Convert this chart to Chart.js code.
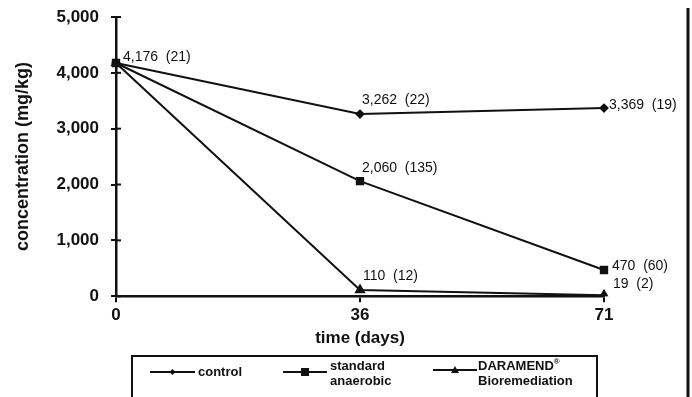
<!DOCTYPE html>
<html>
<head>
<meta charset="utf-8">
<script src="https://cdn.jsdelivr.net/npm/chart.js@4.4.1/dist/chart.umd.min.js"></script>
<style>
    body { margin: 0; background: #fff; }
    #wrap { width: 692px; height: 397px; position: relative; }
</style>
</head>
<body>
<div id="wrap"><canvas id="chart" width="692" height="397"></canvas></div>
<script>
    const days = ['0', '36', '71'];
    const control = [4176, 3262, 3369];
    const controlSd = [21, 22, 19];
    const anaerobic = [4176, 2060, 470];
    const anaerobicSd = [21, 135, 60];
    const daramend = [4176, 110, 19];
    const daramendSd = [21, 12, 2];
    const yTicks = [0, 1000, 2000, 3000, 4000, 5000];

    const ink = '#111';
    const fontFamily = '"Liberation Sans", Arial, sans-serif';

    // where each value label sits relative to its point (dx, dy), null = no label
    const labelOffsets = [
        [[7, -6], [2, -14], [5, -3]],
        [null, [2, -13], [8, -4]],
        [null, [3, -14], [9, -11]]
    ];
    const sds = [controlSd, anaerobicSd, daramendSd];

    const fmt = (v) => v.toLocaleString('en-US');

    const extras = {
        id: 'extras',
        afterDraw(chart) {
            const ctx = chart.ctx;
            const yScale = chart.scales.y;
            const area = chart.chartArea;
            ctx.save();

            // inner half of the y tick marks
            ctx.strokeStyle = ink;
            ctx.lineWidth = 2;
            yTicks.forEach(t => {
                const y = yScale.getPixelForValue(t);
                ctx.beginPath();
                ctx.moveTo(area.left, y);
                ctx.lineTo(area.left + 5, y);
                ctx.stroke();
            });

            // value labels
            ctx.fillStyle = ink;
            ctx.font = '14px ' + fontFamily;
            ctx.textAlign = 'left';
            ctx.textBaseline = 'middle';
            chart.data.datasets.forEach((ds, i) => {
                const meta = chart.getDatasetMeta(i);
                meta.data.forEach((pt, j) => {
                    const off = labelOffsets[i][j];
                    if (!off) return;
                    ctx.fillText(fmt(ds.data[j]) + '  (' + sds[i][j] + ')', pt.x + off[0], pt.y + off[1]);
                });
            });

            // legend box
            ctx.lineWidth = 2;
            ctx.strokeRect(132, 356, 465, 60);

            const drawSample = (x0, x1, y, style) => {
                ctx.lineWidth = 2;
                ctx.beginPath();
                ctx.moveTo(x0, y);
                ctx.lineTo(x1, y);
                ctx.stroke();
                const cx = (x0 + x1) / 2;
                ctx.beginPath();
                if (style === 'rect') {
                    ctx.fillRect(cx - 4, y - 4, 8, 8);
                } else if (style === 'triangle') {
                    ctx.moveTo(cx, y - 4);
                    ctx.lineTo(cx + 4, y + 3);
                    ctx.lineTo(cx - 4, y + 3);
                    ctx.closePath();
                    ctx.fill();
                } else {
                    ctx.moveTo(cx, y - 3);
                    ctx.lineTo(cx + 3, y);
                    ctx.lineTo(cx, y + 3);
                    ctx.lineTo(cx - 3, y);
                    ctx.closePath();
                    ctx.fill();
                }
            };

            drawSample(150, 195, 372, 'rectRot');
            drawSample(283, 327, 372, 'rect');
            drawSample(433, 477, 370, 'triangle');

            ctx.font = 'bold 13px ' + fontFamily;
            ctx.fillText('control', 198, 372);
            ctx.fillText('standard', 330, 366);
            ctx.fillText('anaerobic', 330, 381);
            ctx.fillText('DARAMEND', 478, 366);
            const w = ctx.measureText('DARAMEND').width;
            ctx.font = 'bold 8px ' + fontFamily;
            ctx.fillText('®', 478 + w, 362);
            ctx.font = 'bold 13px ' + fontFamily;
            ctx.fillText('Bioremediation', 478, 381);

            // scanned frame edge on the right
            ctx.lineWidth = 3;
            ctx.beginPath();
            ctx.moveTo(688, 8);
            ctx.lineTo(688, 397);
            ctx.stroke();

            ctx.restore();
        }
    };

    new Chart(document.getElementById('chart'), {
        type: 'line',
        data: {
            labels: days,
            datasets: [
                {
                    label: 'control',
                    data: control,
                    borderColor: ink,
                    backgroundColor: ink,
                    borderWidth: 2,
                    pointStyle: 'rectRot',
                    pointRadius: 3.5,
                    order: 2
                },
                {
                    label: 'standard anaerobic',
                    data: anaerobic,
                    borderColor: ink,
                    backgroundColor: ink,
                    borderWidth: 2,
                    pointStyle: 'rect',
                    pointRadius: 4.5,
                    order: 0
                },
                {
                    label: 'DARAMEND® Bioremediation',
                    data: daramend,
                    borderColor: ink,
                    backgroundColor: ink,
                    borderWidth: 2,
                    pointStyle: 'triangle',
                    pointRadius: 4.5,
                    order: 1
                }
            ]
        },
        options: {
            responsive: false,
            animation: false,
            devicePixelRatio: 1,
            layout: {
                padding: {top: 17, right: 88, bottom: 48, left: 8}
            },
            plugins: {
                legend: {display: false},
                tooltip: {enabled: false}
            },
            scales: {
                x: {
                    type: 'category',
                    offset: false,
                    border: {display: true, color: ink, width: 2.5},
                    grid: {drawOnChartArea: false, drawTicks: true, tickLength: 6, color: ink, lineWidth: 2},
                    ticks: {color: ink, padding: 3, maxRotation: 0, font: {family: fontFamily, size: 17, weight: 'bold'}},
                    title: {
                        display: true,
                        text: 'time (days)',
                        color: ink,
                        padding: {top: 0, bottom: 0},
                        font: {family: fontFamily, size: 17, weight: 'bold'}
                    }
                },
                y: {
                    min: 0,
                    max: 5000,
                    afterBuildTicks: (scale) => {
                        scale.ticks = yTicks.map(v => ({value: v}));
                    },
                    afterFit: (scale) => {
                        scale.width = 108;
                        scale.paddingTop = 0;
                        scale.paddingBottom = 0;
                    },
                    border: {display: true, color: ink, width: 2.5},
                    grid: {drawOnChartArea: false, drawTicks: true, tickLength: 5, color: ink, lineWidth: 2},
                    ticks: {
                        color: ink,
                        padding: 12,
                        font: {family: fontFamily, size: 17, weight: 'bold'},
                        callback: (v) => fmt(v)
                    },
                    title: {
                        display: true,
                        text: 'concentration (mg/kg)',
                        color: ink,
                        padding: {top: 4, bottom: 0},
                        font: {family: fontFamily, size: 18, weight: 'bold'}
                    }
                }
            }
        },
        plugins: [extras]
    });
</script>
</body>
</html>
